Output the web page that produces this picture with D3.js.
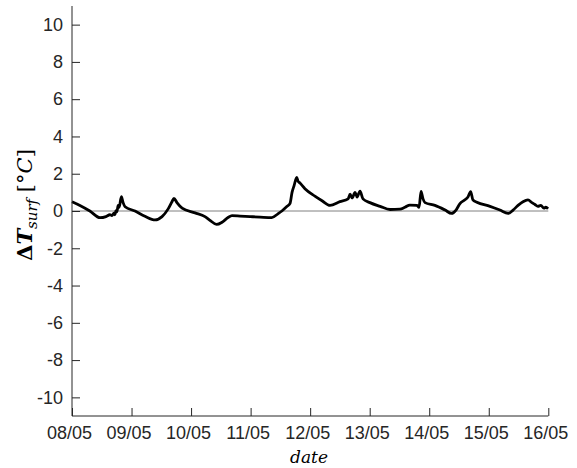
<!DOCTYPE html>
<html><head><meta charset="utf-8">
<script src="https://cdn.jsdelivr.net/npm/d3@7"></script>
<style>body{margin:0;background:#fff}svg{display:block}</style>
</head><body>
<script>
// hours since 08/05 00:00
const hours = [0,3.2,7.2,11.3,13.7,15.3,16.1,16.9,17.3,17.7,18.1,18.6,19,19.9,20.6,21.4,25.4,29.4,33.5,36.3,38.7,40.3,41.1,42.3,44.4,49.6,53.6,55.6,58.3,60.5,62.9,64.5,67.7,71.8,75.8,80.5,83,84.6,86.7,87.9,88.7,89.5,90.6,91.1,91.9,93.9,97.9,100.8,104,108,111.3,112.1,112.9,114.1,114.9,116.1,117.3,120.1,124.2,128.2,132.2,134.2,136.2,139.1,139.9,140.7,141.5,142.3,146.3,150.4,153,154.8,156.4,158.4,159.6,160.7,161.6,163.2,168.5,172.5,175.8,177.8,179.8,181.8,183.8,185.4,186.6,187.8,189,190.2,191,191.9];
const values = [0.5,0.3,0,-0.36,-0.3,-0.2,-0.25,-0.12,-0.2,0.02,-0.05,0.3,0.2,0.77,0.45,0.23,0,-0.28,-0.48,-0.3,0.1,0.5,0.68,0.45,0.15,-0.1,-0.3,-0.5,-0.72,-0.6,-0.35,-0.25,-0.27,-0.3,-0.33,-0.36,-0.15,0,0.25,0.41,1,1.35,1.8,1.6,1.5,1.2,0.8,0.55,0.3,0.5,0.65,0.9,0.7,1,0.75,1.07,0.65,0.45,0.25,0.08,0.1,0.2,0.32,0.3,0.2,1.05,0.65,0.45,0.3,0.05,-0.13,0.05,0.4,0.6,0.75,1.04,0.6,0.47,0.25,0.05,-0.13,0.05,0.3,0.5,0.6,0.45,0.35,0.25,0.3,0.15,0.2,0.12];
const xTickLabels = ["08/05","09/05","10/05","11/05","12/05","13/05","14/05","15/05","16/05"];
const yTicks = [-10,-8,-6,-4,-2,0,2,4,6,8,10];

const W = 577, H = 468;
const start = new Date(2019,4,8);
const data = hours.map((h,i)=>({t:new Date(start.getTime()+h*3600e3), v:values[i]}));

const svg = d3.select("body").append("svg").attr("width",W).attr("height",H);
const x = d3.scaleTime().domain([start, new Date(2019,4,16)]).range([72,548.3]);
const y = d3.scaleLinear().domain([-11,11]).range([416,6]);

const axisColor = "#262626";
const tickFont = "'Liberation Sans', Arial, Helvetica, sans-serif";

// zero line
svg.append("line").attr("x1",x.range()[0]).attr("x2",x.range()[1])
  .attr("y1",y(0)).attr("y2",y(0)).attr("stroke","#808080").attr("stroke-width",1);

// data line
svg.append("path").datum(data)
  .attr("d", d3.line().curve(d3.curveMonotoneX).x(d=>x(d.t)).y(d=>y(d.v)))
  .attr("fill","none").attr("stroke","#000").attr("stroke-width",2.8)
  .attr("stroke-linejoin","round");

// y axis
const yAxis = d3.axisRight(y).tickValues(yTicks).tickSize(8).tickFormat(d=>String(d));
const gy = svg.append("g").attr("transform","translate(72,0)").call(yAxis);
gy.select(".domain").attr("stroke",axisColor).attr("d",`M0,${y.range()[1]}V${y.range()[0]}`);
gy.selectAll(".tick line").attr("stroke",axisColor);
gy.selectAll(".tick text").attr("x",-9).attr("text-anchor","end").attr("fill","#262626")
  .style("font-family",tickFont).style("font-size","18px");

// x axis
const xTickDates = xTickLabels.map((s,i)=>new Date(2019,4,8+i));
const xAxis = d3.axisTop(x).tickValues(xTickDates).tickSize(8).tickFormat((d,i)=>xTickLabels[i]);
const gx = svg.append("g").attr("transform",`translate(0,${y.range()[0]})`).call(xAxis);
gx.select(".domain").attr("stroke",axisColor).attr("d",`M${x.range()[0]},0H${x.range()[1]}`);
gx.selectAll(".tick line").attr("stroke",axisColor);
gx.selectAll(".tick text").attr("y",23).attr("dy",0).attr("x",-3).attr("fill","#262626")
  .style("font-family",tickFont).style("font-size","18px");

// x label
svg.append("text").attr("x",309).attr("y",463).attr("text-anchor","middle")
  .style("font-family","'DejaVu Serif', serif").style("font-style","italic").style("font-size","17px")
  .text("date");

// y label
const yl = svg.append("text").attr("transform","translate(32,205) rotate(-90)")
  .attr("text-anchor","middle").style("font-family","'DejaVu Serif', 'Liberation Serif', serif").style("font-size","21px");
yl.append("tspan").style("font-weight","bold").text("Δ");
yl.append("tspan").style("font-weight","bold").style("font-style","italic").text("T");
yl.append("tspan").attr("dy",5).style("font-style","italic").style("font-size","15px").text("surf");
yl.append("tspan").attr("dy",-5).text(" [°");
yl.append("tspan").style("font-style","italic").text("C");
yl.append("tspan").text("]");
</script>
</body></html>
